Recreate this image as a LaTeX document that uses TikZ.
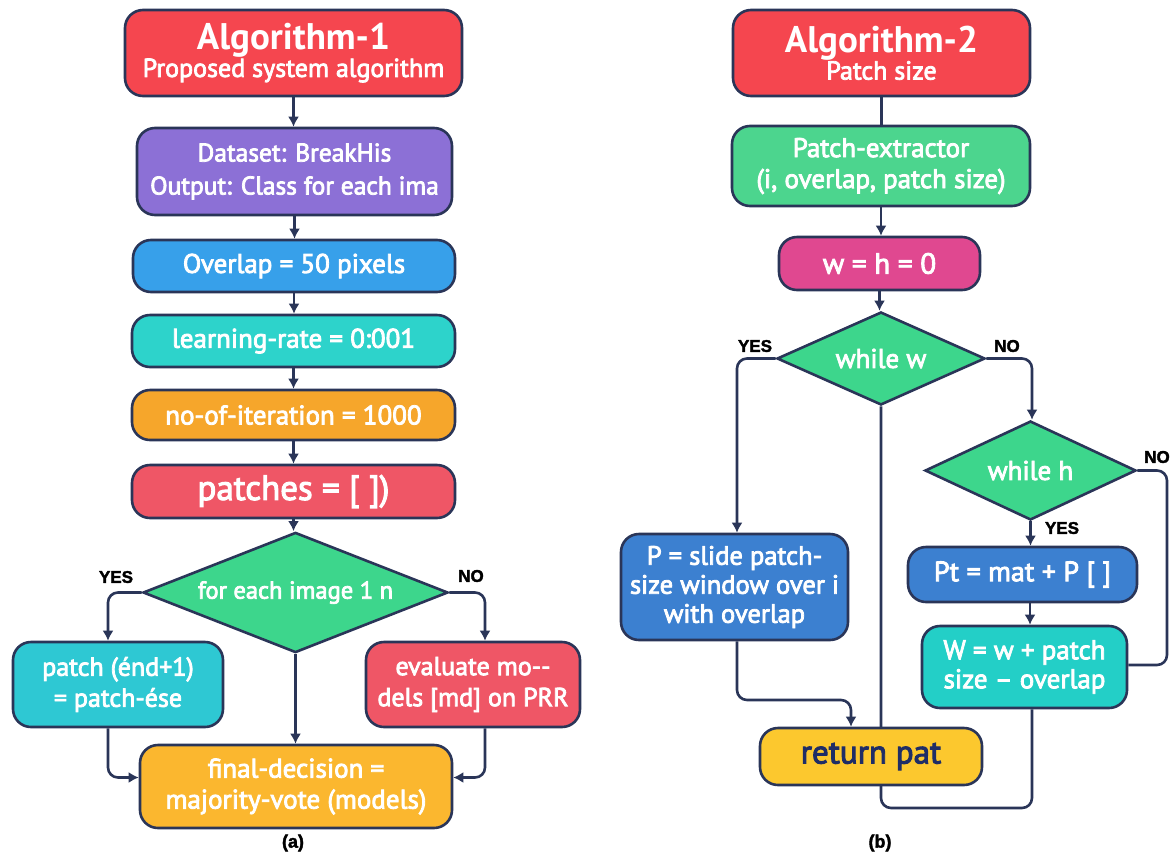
\documentclass[tikz,border=0pt]{standalone}
\usepackage{fontspec}
\setmainfont{PT Sans}
\newfontfamily\medfont{PT Sans}[FakeBold=3]
\newfontfamily\lblfont{Liberation Sans}[FakeBold=2]
\usetikzlibrary{shapes.geometric,arrows.meta,calc}

\definecolor{edge}{HTML}{2A3558}
\definecolor{titlered}{HTML}{F5464F}
\definecolor{purplebox}{HTML}{8C70D6}
\definecolor{skyblue}{HTML}{37A0EA}
\definecolor{tealA}{HTML}{2DD3CB}
\definecolor{orangebox}{HTML}{F6A62B}
\definecolor{redbox}{HTML}{EF5666}
\definecolor{greendia}{HTML}{3DD68C}
\definecolor{tealB}{HTML}{2EC8D3}
\definecolor{goldbox}{HTML}{FBB72F}
\definecolor{greenbox}{HTML}{4CD58E}
\definecolor{magentabox}{HTML}{E04890}
\definecolor{bluebox}{HTML}{3C80D0}
\definecolor{yellowbox}{HTML}{FCC82E}
\definecolor{tealC}{HTML}{23CFC7}
\definecolor{navytext}{HTML}{1F2D66}

\newcommand\fsz[2]{\medfont\fontsize{#1}{#2}\selectfont}

\begin{document}
\begin{tikzpicture}[x=1pt,y=-1pt,
  box/.style n args={3}{draw=edge, line width=2.6pt, rounded corners=18pt,
    fill=#1, minimum width=#2pt, minimum height=#3pt, text=white,
    align=center, inner sep=0pt, font=\fsz{27}{32}},
  diam/.style n args={2}{diamond, draw=edge, line width=2.6pt, fill=greendia,
    minimum width=#1pt, minimum height=#2pt, inner sep=0pt, aspect=2,
    text=white, font=\fsz{27}{30}},
  conn/.style={draw=edge, line width=2.6pt, rounded corners=10pt},
  arr/.style={conn, -{Latex[length=10pt,width=11pt]}},
  yn/.style={font=\lblfont\bfseries\fontsize{17}{19}\selectfont, text=black, inner sep=0pt},
  sublabel/.style={font=\lblfont\bfseries\fontsize{18}{20}\selectfont, text=black, inner sep=0pt}]

\fill[white] (0,0) rectangle (1174,857);
\useasboundingbox (0,0) rectangle (1174,857);

% ---------- (a) proposed system ----------
\node[box={titlered}{337}{86}] (t1) at (293.5,53)
  {{\normalfont\bfseries\fontsize{37}{38}\selectfont Algorithm-1}\\[-5pt]
   {\fsz{26}{28}Proposed system algorithm}};
\node[box={purplebox}{315}{87}, font=\fsz{25.5}{33}] (ds) at (294.5,171.5)
  {Dataset: BreakHis\\Output: Class for each ima};
\node[box={skyblue}{322}{52}] (ov) at (294,266) {Overlap = 50 pixels};
\node[box={tealA}{323}{52}] (lr) at (293.5,341) {learning-rate = 0:001};
\node[box={orangebox}{323}{50}] (it) at (293.5,415) {no-of-iteration = 1000};
\node[box={redbox}{323}{53}, font=\fsz{35}{36}] (pc) at (293.5,491.5) {patches = [ ])};
\node[diam={305}{95}, font=\fsz{24.5}{30}] (fe) at (295.5,592.5) {for each image 1 n};
\node[box={tealB}{210}{85}, font=\fsz{26}{31}] (pa) at (118,684.5) {patch (énd+1)\\= patch-ése};
\node[box={redbox}{214}{85}, font=\fsz{26}{31}] (ev) at (473,684.5) {evaluate mo-{}-\\dels [md] on PRR};
\node[box={goldbox}{312}{83}, font=\fsz{27}{31}] (fd) at (296,786.5) {final-decision =\\majority-vote (models)};

\draw[arr] (t1.south) -- (t1.south |- ds.north);
\draw[arr] (ds.south) -- (ds.south |- ov.north);
\draw[arr] (ov.south) -- (ov.south |- lr.north);
\draw[arr] (lr.south) -- (lr.south |- it.north);
\draw[arr] (it.south) -- (it.south |- pc.north);
\draw[arr] (pc.south) -- (pc.south |- fe.north);
\draw[arr] (fe.west) -| ([xshift=-10pt]pa.north);
\draw[arr] (fe.east) -| ([xshift=12pt]ev.north);
\draw[arr] (fe.south) -- (fe.south |- fd.north);
\draw[arr] ([xshift=-10pt]pa.south) |- ([yshift=9pt]fd.west);
\draw[arr] ([xshift=12pt]ev.south) |- ([yshift=9pt]fd.east);

\node[yn] (ya) at (116,577) {YES};
\node[yn] (na) at (471,576) {NO};
\node[sublabel] (capa) at (293,843) {(a)};

% ---------- (b) patch size ----------
\node[box={titlered}{297}{86}] (t2) at (881.5,53)
  {{\normalfont\bfseries\fontsize{37}{38}\selectfont Algorithm-2}\\[-5pt]
   {\fsz{26}{28}Patch size}};
\node[box={greenbox}{298}{80}, font=\fsz{27}{31}] (pe) at (881,166)
  {Patch-extractor\\(i, overlap, patch size)};
\node[box={magentabox}{201}{53}, font=\fsz{29}{31}] (wh) at (879.5,263.5) {w = h = 0};
\node[diam={208}{93}] (dw) at (881,358.5) {while w};
\node[box={bluebox}{227}{106}, font=\fsz{26.5}{29}] (ps) at (734.5,587)
  {P = slide patch-\\size window over i\\with overlap};
\node[diam={211}{99}] (dh) at (1030.5,470.5) {while h};
\node[box={bluebox}{229}{55}, font=\fsz{28}{30}] (pt) at (1022.5,574.5) {Pt = mat + P [ ]};
\node[box={tealC}{205}{82}, font=\fsz{27}{29}] (wb) at (1024.5,667) {W = w + patch\\size – overlap};

\draw[conn] (t2.south) -- (t2.south |- pe.north);
\draw[arr] (pe.south) -- (pe.south |- wh.north);
\draw[arr] (wh.south) -- (wh.south |- dw.north);
\draw[arr] (dw.west) -| ([xshift=2.5pt]ps.north);
\draw[arr] (dw.east) -| ([xshift=1.5pt]dh.north);
\draw[arr] (dh.south) -- (dh.south |- pt.north);
\draw[arr] ([xshift=7.5pt]pt.south) -- ([xshift=7.5pt]pt.south |- wb.north);
\draw[conn] (dh.east) -- (dh.east -| 1167,0) |- ([yshift=2pt]wb.east);
% loop back to the outer test, passing behind the return box
\draw[conn] ([xshift=7.5pt]wb.south) -- ([xshift=7.5pt]wb.south |- 0,808) -| (dw.south);

\node[box={yellowbox}{222}{57}, text=navytext, font=\fsz{33}{35}] (rp) at (871,756.5) {return pat};
\draw[arr] ([xshift=2.5pt]ps.south) -- ([xshift=2.5pt]ps.south |- 0,700) -| ([xshift=-20pt]rp.north);

\node[yn] (yw) at (755,346) {YES};
\node[yn] (nw) at (1007,346) {NO};
\node[yn] (nh) at (1157,457) {NO};
\node[yn] (yh) at (1062,528) {YES};
\node[sublabel] (capb) at (880,843) {(b)};
\end{tikzpicture}
\end{document}
